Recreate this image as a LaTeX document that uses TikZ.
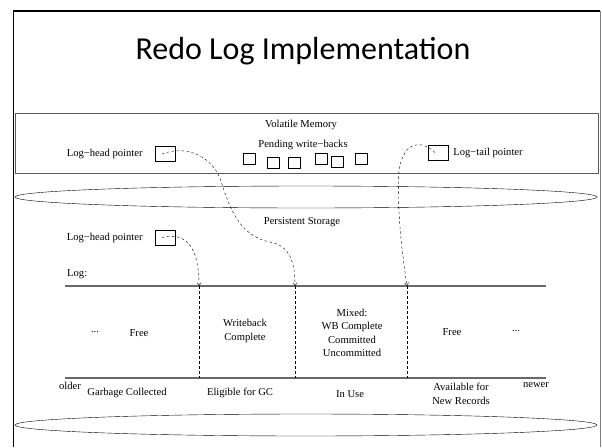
\documentclass[tikz,border=0pt]{standalone}
\usepackage{fontspec}
\setmainfont{Liberation Serif}
\newfontfamily\titlefont{Carlito}
\usetikzlibrary{arrows.meta, positioning}
\definecolor{FrameGray}{RGB}{90,90,90}
\definecolor{LineGray}{RGB}{105,105,105}

\begin{document}
\begin{tikzpicture}[x=1pt,y=-1pt,
        lbl/.style={font=\fontsize{10.6}{13.5}\selectfont,align=center,inner sep=0pt},
        ptrbox/.style={draw,thin,minimum width=20pt,minimum height=15pt,inner sep=0pt},
        wb/.style={draw,thin,minimum width=12pt,minimum height=11pt,inner sep=0pt},
        ptr/.style={thin,dash pattern=on 2.5pt off 2.5pt,-{Straight Barb[length=3pt,width=4pt]}},
        bound/.style={thin,dash pattern=on 2.5pt off 2.5pt},
        logline/.style={LineGray,line width=1.1pt,-{Rectangle[length=2pt,width=1.6pt]}}
      ]
        \useasboundingbox (0,0) rectangle (602,447);
        % slide frame
        \draw[black,line width=1.6pt] (13.5,447) -- (13.5,11) -- (600,11);
        \draw[gray,line width=1pt] (600,11) -- (600,447);
        \node[font=\titlefont\fontsize{32}{36}\selectfont,anchor=base] (title) at (303,59)
          {Redo Log Implementation};

        % volatile memory
        \draw[FrameGray,line width=0.8pt] (15,113) rectangle (598,173);
        \node[lbl] (vm) at (301,125) {Volatile Memory};
        \node[lbl] (pend) at (303,145) {Pending write−backs};
        \foreach \x/\y [count=\i] in {249.5/158.5, 273/162.5, 294/162.5,
                                      321.5/159, 337.5/162, 361.5/158.5}
          \node[wb] (wb\i) at (\x,\y) {};
        \node[ptrbox] (hv) at (165,154) {};
        \node[lbl,left=12pt of hv] (hvl) {Log−head pointer};
        \node[ptrbox] (tl) at (438,152.5) {};
        \node[lbl,right=5pt of tl] (tll) {Log−tail pointer};

        % persistent storage
        \draw (306,197) ellipse [x radius=291pt, y radius=11pt];
        \draw (306,425) ellipse [x radius=291pt, y radius=11pt];
        \node[lbl] (ps) at (302,222) {Persistent Storage};
        \node[ptrbox] (hp) at (165,237.5) {};
        \node[lbl,left=12pt of hp] (hpl) {Log−head pointer};
        \node[lbl,anchor=west] (log) at (67,274) {Log:};

        % the log itself
        \coordinate (ltop) at (65,286);
        \coordinate (lbot) at (65,378);
        \draw[logline] (ltop) -- (546,286);
        \draw[logline] (lbot) -- (546,378);
        \coordinate (b1) at (199,286);
        \coordinate (b2) at (295,286);
        \coordinate (b3) at (407,286);
        \foreach \b in {b1,b2,b3}
          \draw[bound] (\b) -- ++(0,92);

        \node[lbl] (dl) at (95,332) {...};
        \node[lbl] (free1) at (139,333) {Free};
        \node[lbl] (wbc) at (245,331) {Writeback\\Complete};
        \node[lbl] (mixed) at (352,333) {Mixed:\\WB Complete\\Committed\\Uncommitted};
        \node[lbl] (free2) at (452,332) {Free};
        \node[lbl] (dr) at (516,331) {...};

        \node[lbl] (older) at (70,386) {older};
        \node[lbl] (gc) at (127,393) {Garbage Collected};
        \node[lbl] (elig) at (240,393) {Eligible for GC};
        \node[lbl] (use) at (350,394) {In Use};
        \node[lbl] (avail) at (461,394) {Available for\\New Records};
        \node[lbl] (newer) at (536,385) {newer};

        % pointers into the log
        \draw[ptr] ([xshift=-3pt]hv.center) .. controls (185,145) and (210,155) .. (220,178)
          .. controls (230,210) and (240,236) .. (270,242)
          .. controls (290,246) and (295,262) .. (b2);
        \draw[ptr] ([xshift=-3pt]hp.center) .. controls (185,232) and (199,245) .. (b1);
        \draw[ptr] ([shift={(-3pt,0)}]tl.center) .. controls (422,140) and (404,140) .. (399,170)
          .. controls (397,200) and (400,240) .. (b3);
      \end{tikzpicture}
\end{document}
